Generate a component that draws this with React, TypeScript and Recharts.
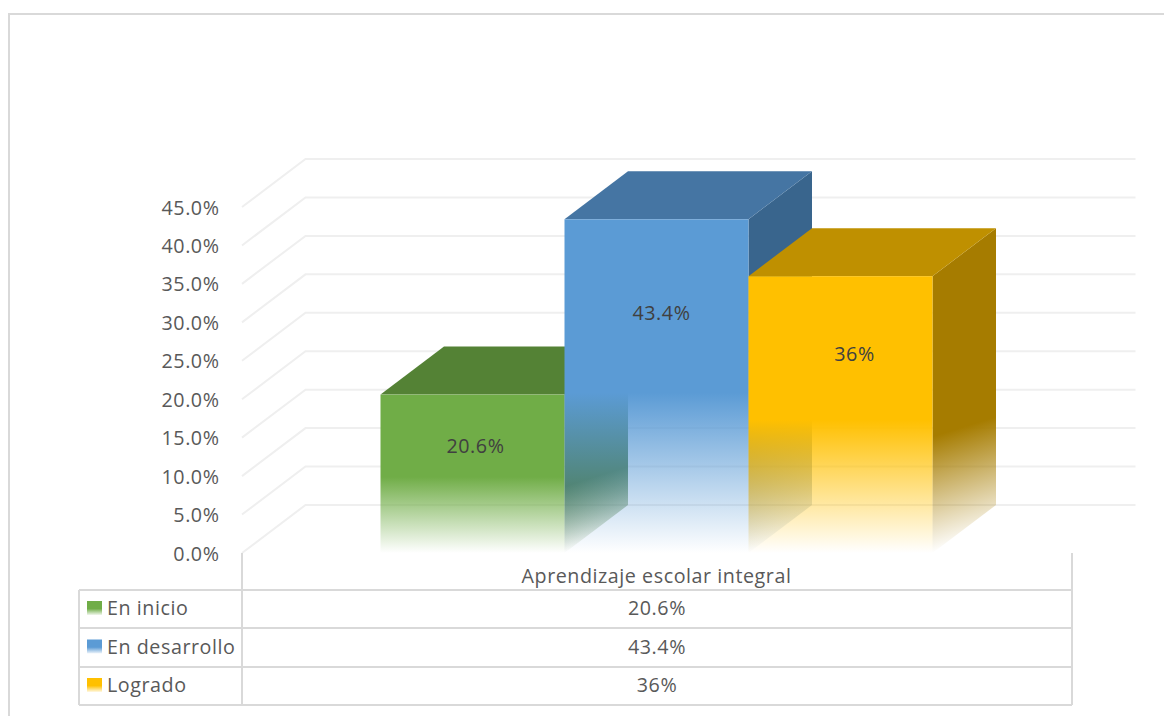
import { BarChart, Bar, CartesianGrid, XAxis, YAxis } from "recharts";

const categories = ["Aprendizaje escolar integral"];
const seriesNames = ["En inicio", "En desarrollo", "Logrado"];
const enInicio = [20.6];
const enDesarrollo = [43.4];
const logrado = [36];
const yTicks = [0, 5, 10, 15, 20, 25, 30, 35, 40, 45];

const frontColors = ["#70ad47", "#5b9bd5", "#ffc000"];
const topColors = ["#548235", "#4575a3", "#bf9000"];
const sideColors = ["#4a7530", "#39658d", "#a67c00"];

// value label placement per box, relative to the front face
const labelShiftX = [3, 5, 14];
const labelShiftY = [51, 94, 78];

const chartData = categories.map((name, i) => ({
  name,
  inicio: enInicio[i],
  desarrollo: enDesarrollo[i],
  logrado: logrado[i],
}));

const tableRows = [enInicio, enDesarrollo, logrado];

// oblique offset of the 3D box
const DEPTH_X = 63.5;
const DEPTH_Y = 48;
const FADE_START = 0.52;
const SIDE_FADE_START = 0.58;

const FONT = "'Open Sans', sans-serif";
const FONT_SIZE = 19.7;
const SPACING = 0.55;
const TEXT_COLOR = "#595959";
const LINE_COLOR = "#d9d9d9";
const GRID_COLOR = "#efefef";

const PLOT_LEFT = 242;
const PLOT_RIGHT = 1072;
const TABLE_LEFT = 79;
const TABLE_LINES = [590, 628, 667, 705];

const textProps = { fontFamily: FONT, fontSize: FONT_SIZE, letterSpacing: SPACING, fill: TEXT_COLOR };

// floor-to-wall gridline: diagonal on the side wall, then straight along the back
function GridLine({ y1 }: any) {
  return (
    <polyline
      points={`${PLOT_LEFT},${y1} ${PLOT_LEFT + DEPTH_X},${y1 - DEPTH_Y} ${PLOT_RIGHT + DEPTH_X},${y1 - DEPTH_Y}`}
      fill="none"
      stroke={GRID_COLOR}
      strokeWidth={2}
    />
  );
}

function ValueTick({ y, payload }: any) {
  return (
    <text x={219.5} y={y} dy={7.5} textAnchor="end" {...textProps}>
      {payload.value.toFixed(1)}%
    </text>
  );
}

function CategoryTick({ x, payload }: any) {
  return (
    <text x={x} y={583} textAnchor="middle" {...textProps}>
      {payload.value}
    </text>
  );
}

function makeBox(index: number) {
  return function Box({ x, y, width, height, value }: any) {
    const base = y + height;
    const right = x + width;
    const sideFadeY = y + height * SIDE_FADE_START;
    // side fade runs across a shallow diagonal
    const dirX = 20 / 67;
    const dirY = 64 / 67;
    const span = (base - sideFadeY) * dirY;
    const sideId = `side-${index}`;
    const frontId = `front-${index}`;
    return (
      <g>
        <defs>
          <linearGradient id={frontId} x1="0" y1="0" x2="0" y2="1">
            <stop offset={FADE_START} stopColor={frontColors[index]} stopOpacity={1} />
            <stop offset={1} stopColor={frontColors[index]} stopOpacity={0} />
          </linearGradient>
          <linearGradient
            id={sideId}
            gradientUnits="userSpaceOnUse"
            x1={right}
            y1={sideFadeY}
            x2={right + span * dirX}
            y2={sideFadeY + span * dirY}
          >
            <stop offset={0} stopColor={sideColors[index]} stopOpacity={1} />
            <stop offset={1} stopColor={sideColors[index]} stopOpacity={0} />
          </linearGradient>
        </defs>
        <polygon
          points={`${right},${y} ${right + DEPTH_X},${y - DEPTH_Y} ${right + DEPTH_X},${base - DEPTH_Y} ${right},${base}`}
          fill={`url(#${sideId})`}
        />
        <polygon
          points={`${x},${y} ${x + DEPTH_X},${y - DEPTH_Y} ${right + DEPTH_X},${y - DEPTH_Y} ${right},${y}`}
          fill={topColors[index]}
        />
        <rect x={x} y={y} width={width} height={height} fill={`url(#${frontId})`} />
        <text
          x={x + width / 2 + labelShiftX[index]}
          y={y + labelShiftY[index]}
          dy={7}
          textAnchor="middle"
          {...textProps}
          fill="#404040"
        >
          {value}%
        </text>
      </g>
    );
  };
}

function DataTable() {
  const lineProps = { stroke: LINE_COLOR, strokeWidth: 2 };
  return (
    <g>
      <defs>
        {frontColors.map((c, i) => (
          <linearGradient key={c} id={`key-${i}`} x1="0" y1="0" x2="0" y2="1">
            <stop offset={0.55} stopColor={c} stopOpacity={1} />
            <stop offset={1} stopColor={c} stopOpacity={0.1} />
          </linearGradient>
        ))}
      </defs>
      {TABLE_LINES.map((ly) => (
        <line key={ly} x1={TABLE_LEFT} x2={PLOT_RIGHT} y1={ly} y2={ly} {...lineProps} />
      ))}
      <line x1={TABLE_LEFT} x2={TABLE_LEFT} y1={590} y2={705} {...lineProps} />
      <line x1={PLOT_LEFT} x2={PLOT_LEFT} y1={553} y2={705} {...lineProps} />
      <line x1={PLOT_RIGHT} x2={PLOT_RIGHT} y1={553} y2={705} {...lineProps} />
      {seriesNames.map((name, i) => {
        const top = TABLE_LINES[i];
        const mid = (top + TABLE_LINES[i + 1]) / 2;
        return (
          <g key={name}>
            <rect x={87} y={mid - 8} width={15} height={14} fill={`url(#key-${i})`} />
            <text x={107} y={mid + 6} {...textProps}>
              {name}
            </text>
            <text x={657} y={mid + 6} textAnchor="middle" {...textProps}>
              {tableRows[i][0]}%
            </text>
          </g>
        );
      })}
    </g>
  );
}

export default function App() {
  return (
    <div style={{ position: "absolute", left: 0, top: 0, width: 1164, height: 716, background: "#fff", overflow: "hidden" }}>
      {/* outer frame, only top and left edges fall inside the page */}
      <div style={{ position: "absolute", left: 8, top: 13, width: 1200, height: 760, border: `2px solid ${LINE_COLOR}` }} />
      <div style={{ position: "absolute", left: 0, top: 0 }}>
        <BarChart
          width={1164}
          height={716}
          data={chartData}
          margin={{ top: 207, right: 93, bottom: 162, left: 241 }}
          barCategoryGap={138.5}
          barGap={0}
        >
          <CartesianGrid vertical={false} horizontal={GridLine} horizontalValues={yTicks} />
          <YAxis
            width={1}
            domain={[0, 45]}
            ticks={yTicks}
            interval={0}
            axisLine={false}
            tickLine={false}
            tick={ValueTick}
          />
          <XAxis dataKey="name" height={1} axisLine={false} tickLine={false} tick={CategoryTick} />
          <Bar dataKey="inicio" isAnimationActive={false} shape={makeBox(0)} />
          <Bar dataKey="desarrollo" isAnimationActive={false} shape={makeBox(1)} />
          <Bar dataKey="logrado" isAnimationActive={false} shape={makeBox(2)} />
          <DataTable />
        </BarChart>
      </div>
    </div>
  );
}
